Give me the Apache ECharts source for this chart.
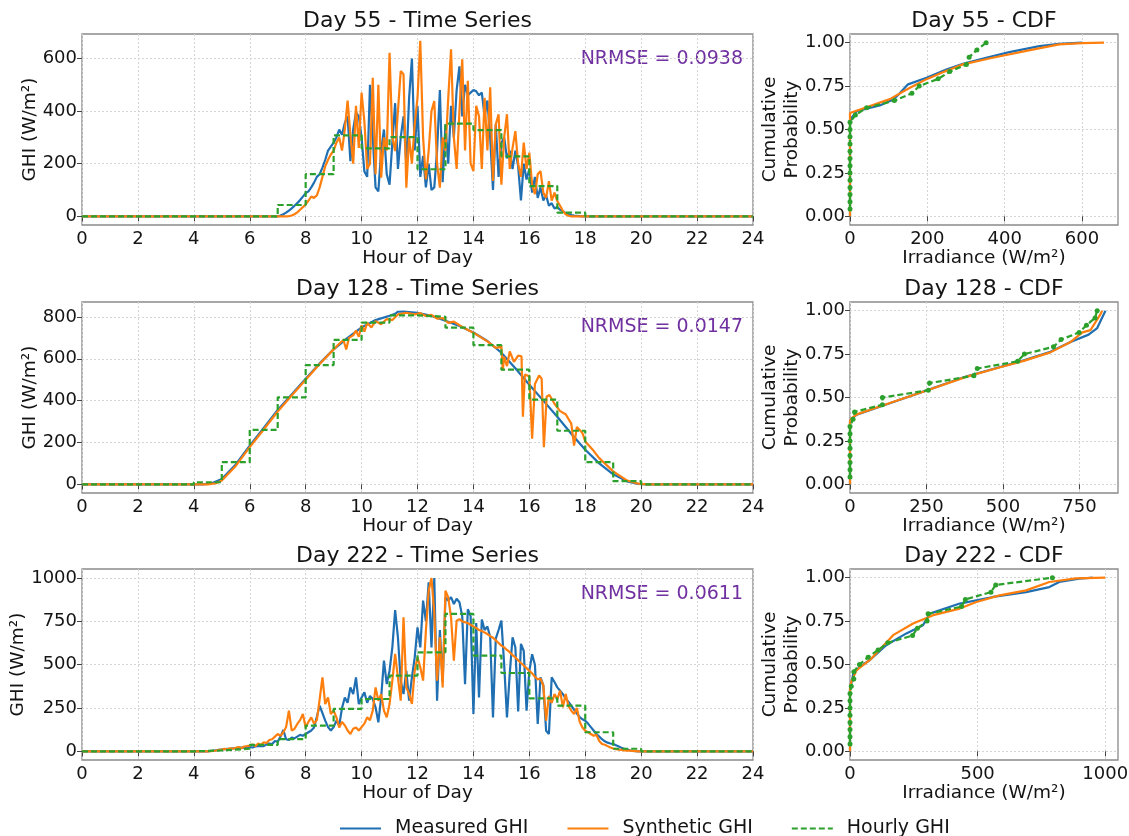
<!DOCTYPE html>
<html>
<head>
<meta charset="utf-8">
<title>GHI - time series and CDF</title>
<script src="https://cdn.jsdelivr.net/npm/echarts@6.0.0/dist/echarts.min.js"></script>
<style>
  body { margin: 0; background: #fff; }
  #chart { width: 1129px; height: 836px; }
</style>
</head>
<body>
<div id="chart"></div>
<script>
// sampling step of the read-off time series (hours)
const STEP = 0.1;

// ---- Day 55 ----
const measured55Start = 7.0;
const measured55 = [
  0, 3, 8, 14, 22, 30, 40, 50, 62, 75,
  88, 95, 110, 128, 150, 160, 185, 215, 250, 265,
  280, 300, 330, 310, 355, 380, 210, 330, 395, 380,
  300, 170, 150, 500, 300, 110, 95, 250, 330, 160,
  120, 280, 430, 180, 300, 380, 200, 450, 600, 250,
  420, 150, 230, 110, 200, 100, 110, 250, 480, 130,
  350, 200, 420, 300, 480, 570, 380, 500, 460, 470,
  480, 475, 460, 470, 380, 440, 300, 100, 350, 150,
  280, 300, 220, 250, 180, 250, 190, 60, 200, 140,
  180, 90, 150, 70, 110, 60, 80, 40, 50, 30,
  35, 25, 20, 12, 8, 5, 3, 2, 1, 0,
  0
];
const synthetic55Start = 7.0;
const synthetic55 = [
  0, 0, 0, 0, 1, 3, 8, 15, 25, 35,
  45, 60, 75, 70, 80, 110, 150, 190, 215, 235,
  250, 280, 300, 250, 330, 440, 310, 200, 420, 260,
  470, 360, 180, 200, 527, 160, 500, 147, 300, 250,
  622, 300, 248, 400, 552, 540, 109, 300, 200, 350,
  450, 667, 300, 140, 250, 400, 438, 200, 109, 300,
  250, 450, 635, 300, 180, 400, 597, 250, 515, 200,
  172, 420, 380, 180, 450, 250, 490, 134, 350, 388,
  120, 300, 388, 180, 260, 324, 200, 150, 280, 180,
  242, 120, 84, 160, 172, 90, 70, 134, 60, 90,
  58, 40, 20, 8, 2, 0, 0, 0, 0, 0,
  0
];
const hourly55 = [0, 0, 0, 0, 0, 0, 0, 43, 160, 308, 258, 301, 179, 352, 328, 228, 115, 14, 0, 0, 0, 0, 0, 0];
const cdfMeasured55 = [[0, 0], [0, 0.55], [4, 0.567], [17, 0.606], [77, 0.638], [112, 0.673], [125, 0.7], [150, 0.76], [198, 0.798], [249, 0.846], [292, 0.879], [352, 0.913], [412, 0.946], [490, 0.98], [541, 0.993], [601, 1.0]];
const cdfSynthetic55 = [[0, 0], [0, 0.595], [5, 0.603], [26, 0.615], [103, 0.675], [155, 0.74], [198, 0.79], [240, 0.83], [292, 0.875], [369, 0.913], [472, 0.96], [541, 0.99], [600, 0.997], [657, 1.0]];

// ---- Day 128 ----
const measured128 = [
  [0, 0], [4.3, 0], [4.6, 3], [5.0, 25], [5.5, 95], [6.0, 185], [6.5, 270], [7.0, 355], [7.5, 430],
  [8.0, 505], [8.5, 578], [9.0, 645], [9.5, 700], [10.0, 750], [10.5, 785], [11.0, 806], [11.2, 815],
  [11.3, 825], [11.35, 818], [11.5, 826], [12.0, 820], [12.5, 805], [13.0, 782], [13.5, 757], [14.0, 726],
  [14.5, 685], [15.0, 629], [15.5, 555], [16.0, 476], [16.5, 400], [17.0, 323], [17.5, 242], [18.0, 165],
  [18.5, 100], [19.0, 48], [19.5, 14], [19.9, 2], [20.2, 0], [24, 0]
];
const synthetic128 = [
  [0, 0], [4.5, 0], [4.8, 5], [5.0, 18], [5.5, 88], [6.0, 178], [6.5, 262], [7.0, 348], [7.5, 425],
  [8.0, 500], [8.5, 575], [9.0, 645], [9.2, 672], [9.35, 690], [9.45, 645], [9.55, 700], [9.7, 712],
  [9.8, 735], [9.9, 705], [10.0, 760], [10.1, 730], [10.2, 772], [10.35, 750], [10.5, 780], [10.7, 765],
  [10.9, 790], [11.1, 785], [11.3, 812], [11.6, 820], [11.9, 812], [12.1, 818], [12.3, 805], [12.5, 810],
  [12.7, 792], [12.9, 795], [13.1, 772], [13.3, 778], [13.6, 752], [14.0, 725], [14.5, 683], [14.8, 652],
  [15.0, 658], [15.05, 545], [15.1, 610], [15.2, 565], [15.3, 635], [15.45, 585], [15.6, 615], [15.72, 612],
  [15.77, 323], [15.84, 525], [16.0, 516], [16.1, 218], [16.2, 480], [16.35, 520], [16.44, 505], [16.52, 177],
  [16.62, 420], [16.72, 427], [16.9, 385], [17.1, 350], [17.3, 335], [17.5, 290], [17.6, 185], [17.7, 274],
  [17.9, 245], [18.0, 205], [18.3, 160], [18.5, 125], [19.0, 62], [19.5, 18], [19.9, 3], [20.2, 0], [24, 0]
];
const hourly128 = [0, 0, 0, 0, 10, 106, 260, 416, 570, 690, 773, 808, 801, 749, 665, 548, 405, 256, 106, 15, 0, 0, 0, 0];
const cdfMeasured128 = [[0, 0], [0, 0.36], [5, 0.377], [22, 0.401], [109, 0.454], [251, 0.541], [382, 0.622], [491, 0.676], [568, 0.714], [655, 0.763], [721, 0.82], [780, 0.862], [808, 0.9], [835, 1.0]];
const cdfSynthetic128 = [[0, 0], [0, 0.365], [5, 0.38], [22, 0.403], [109, 0.455], [251, 0.54], [382, 0.62], [491, 0.674], [568, 0.711], [655, 0.76], [721, 0.82], [760, 0.875], [786, 0.888], [819, 0.98], [824, 1.0]];

// ---- Day 222 ----
const measured222Start = 4.5;
const measured222 = [
  0, 2, 4, 6, 8,
  10, 12, 14, 15, 17, 18, 20, 22, 20, 22,
  25, 22, 28, 30, 32, 30, 40, 45, 42, 60,
  55, 85, 123, 70, 65, 80, 75, 85, 95, 90,
  100, 110, 120, 138, 200, 263, 220, 177, 140, 120,
  140, 177, 150, 250, 311, 280, 369, 330, 427, 273,
  311, 340, 280, 320, 302, 254, 167, 311, 523, 388,
  465, 600, 815, 657, 408, 330, 465, 292, 427, 542,
  715, 600, 870, 750, 975, 600, 1000, 292, 700, 400,
  888, 870, 890, 850, 880, 860, 780, 388, 820, 780,
  215, 740, 311, 760, 700, 720, 660, 196, 650, 700,
  754, 500, 196, 450, 658, 600, 230, 620, 580, 235,
  465, 560, 500, 158, 427, 380, 119, 100, 427, 400,
  369, 350, 330, 305, 285, 263, 240, 218, 198, 185,
  177, 160, 140, 120, 100, 85, 70, 58, 50, 45,
  42, 35, 28, 20, 14, 10, 6, 3, 1, 0,
  0
];
const synthetic222Start = 4.5;
const synthetic222 = [
  0, 1, 3, 5, 8,
  10, 14, 12, 18, 15, 20, 25, 18, 28, 30,
  33, 40, 30, 45, 38, 52, 48, 65, 70, 85,
  100, 90, 110, 140, 235, 119, 130, 158, 180, 215,
  138, 170, 196, 160, 180, 300, 427, 273, 311, 215,
  235, 196, 138, 170, 150, 120, 100, 130, 138, 120,
  140, 160, 196, 180, 235, 369, 292, 330, 235, 196,
  273, 408, 562, 427, 292, 773, 369, 331, 273, 465,
  542, 485, 408, 696, 927, 1000, 800, 408, 658, 369,
  927, 888, 773, 523, 754, 763, 750, 745, 740, 730,
  720, 712, 700, 695, 685, 677, 665, 655, 640, 625,
  610, 600, 585, 572, 555, 542, 525, 510, 495, 480,
  465, 450, 430, 415, 420, 380, 177, 320, 280, 330,
  300, 350, 254, 331, 260, 235, 215, 250, 170, 138,
  119, 110, 100, 90, 95, 60, 42, 38, 30, 22,
  16, 13, 10, 8, 6, 4, 4, 2, 1, 0,
  0
];
const hourly222 = [0, 0, 0, 0, 5, 15, 37, 71, 148, 245, 302, 437, 571, 793, 552, 452, 306, 264, 110, 15, 0, 0, 0, 0];
const cdfMeasured222 = [[0, 0], [0, 0.36], [3, 0.373], [13, 0.449], [39, 0.488], [78, 0.526], [143, 0.612], [221, 0.679], [286, 0.726], [313, 0.793], [430, 0.851], [560, 0.889], [690, 0.917], [781, 0.946], [820, 0.975], [898, 0.994], [951, 1.0]];
const cdfSynthetic222 = [[0, 0], [0, 0.36], [5, 0.4], [26, 0.468], [78, 0.526], [169, 0.669], [247, 0.736], [326, 0.784], [430, 0.822], [495, 0.86], [586, 0.898], [690, 0.927], [781, 0.975], [885, 0.996], [1000, 1.0]];

const nrmseValues = ['0.0938', '0.0147', '0.0611'];
const dayNumbers = [55, 128, 222];

const tsTicks = [[0, 200, 400, 600], [0, 200, 400, 600, 800], [0, 250, 500, 750, 1000]];
const cdfXTicks = [[0, 200, 400, 600], [0, 250, 500, 750], [0, 500, 1000]];
const cdfYTicks = [0, 0.25, 0.5, 0.75, 1.0];

// ---- helpers ----
function stepped(start, vals) {
  const pts = [[0, 0]];
  vals.forEach((v, i) => pts.push([Math.round((start + i * STEP) * 100) / 100, v]));
  pts.push([24, 0]);
  return pts;
}
function hourlySteps(vals) {
  const pts = vals.map((v, h) => [h, v]);
  pts.push([24, vals[vals.length - 1]]);
  return pts;
}
function hourlyCdf(vals) {
  const s = vals.slice().sort((a, b) => a - b);
  return s.map((v, i) => [v, (i + 1) / s.length]);
}

const rows = [
  { measured: stepped(measured55Start, measured55), synthetic: stepped(synthetic55Start, synthetic55),
    hourly: hourly55, cdfM: cdfMeasured55, cdfS: cdfSynthetic55, yMin: -33, yMax: 693, cdfMax: 693, yNameGap: 42 },
  { measured: measured128, synthetic: synthetic128,
    hourly: hourly128, cdfM: cdfMeasured128, cdfS: cdfSynthetic128, yMin: -41.5, yMax: 871.5, cdfMax: 876, yNameGap: 42 },
  { measured: stepped(measured222Start, measured222), synthetic: stepped(synthetic222Start, synthetic222),
    hourly: hourly222, cdfM: cdfMeasured222, cdfS: cdfSynthetic222, yMin: -50, yMax: 1052, cdfMax: 1050, yNameGap: 54 }
];

// ---- layout / style ----
const FONT = 'DejaVu Sans';
const TXT = '#141414';
const FRAME = '#8a8a8a';
const TICKC = '#444';
const GRIDC = '#d4d4d4';
const BLUE = '#1f6fb2', ORANGE = '#ff7f0e', GREEN = '#2ca02c';
const ROW_TOP = [34, 302, 569], ROW_H = 191;
const TS_LEFT = 82, TS_W = 671, CDF_LEFT = 850, CDF_W = 268;
const LW = 2.2;

const grids = [], xAxes = [], yAxes = [], series = [], graphics = [];
const plain = v => String(v);

function valueAxis(gi, extra) {
  return Object.assign({
    type: 'value', gridIndex: gi,
    axisLine: { show: false },
    axisTick: { show: true, length: 5, lineStyle: { color: TICKC, width: 1 } },
    axisLabel: { color: TXT, fontSize: 18, fontFamily: FONT },
    splitLine: { show: true, lineStyle: { color: GRIDC, type: [2, 2], width: 1 } },
    nameLocation: 'middle',
    nameMoveOverlap: false,
    nameTextStyle: { color: TXT, fontSize: 18.5, fontFamily: FONT }
  }, extra);
}

rows.forEach((row, r) => {
  const top = ROW_TOP[r];
  const gTs = 2 * r, gCdf = 2 * r + 1;
  grids.push({ left: TS_LEFT, top: top, width: TS_W, height: ROW_H, show: true,
    borderColor: FRAME, borderWidth: 1.3, backgroundColor: 'transparent', outerBoundsMode: 'none' });
  grids.push({ left: CDF_LEFT, top: top, width: CDF_W, height: ROW_H, show: true,
    borderColor: FRAME, borderWidth: 1.3, backgroundColor: 'transparent', outerBoundsMode: 'none' });

  xAxes.push(valueAxis(gTs, {
    min: 0, max: 24, interval: 2, name: 'Hour of Day', nameGap: 24,
    axisLabel: { color: TXT, fontSize: 18, fontFamily: FONT, margin: 5, formatter: plain }
  }));
  yAxes.push(valueAxis(gTs, {
    min: row.yMin, max: row.yMax, name: 'GHI (W/m²)', nameGap: row.yNameGap,
    axisLabel: { color: TXT, fontSize: 18, fontFamily: FONT, margin: 5, customValues: tsTicks[r], formatter: plain },
    axisTick: { show: true, length: 5, lineStyle: { color: TICKC }, customValues: tsTicks[r] }
  }));
  xAxes.push(valueAxis(gCdf, {
    min: 0, max: row.cdfMax, name: 'Irradiance (W/m²)', nameGap: 24,
    axisLabel: { color: TXT, fontSize: 18, fontFamily: FONT, margin: 5, customValues: cdfXTicks[r], formatter: plain },
    axisTick: { show: true, length: 5, lineStyle: { color: TICKC }, customValues: cdfXTicks[r] }
  }));
  yAxes.push(valueAxis(gCdf, {
    min: -0.05, max: 1.05, name: 'Cumulative\nProbability', nameGap: 47,
    nameTextStyle: { color: TXT, fontSize: 18.5, fontFamily: FONT, lineHeight: 22 },
    axisLabel: { color: TXT, fontSize: 18, fontFamily: FONT, margin: 5, customValues: cdfYTicks,
      formatter: v => v.toFixed(2) },
    axisTick: { show: true, length: 5, lineStyle: { color: TICKC }, customValues: cdfYTicks }
  }));

  const common = { type: 'line', symbol: 'none', animation: false };
  series.push(Object.assign({}, common, { name: 'Measured GHI', xAxisIndex: gTs, yAxisIndex: gTs,
    data: row.measured, lineStyle: { color: BLUE, width: LW }, itemStyle: { color: BLUE }, z: 2 }));
  series.push(Object.assign({}, common, { name: 'Synthetic GHI', xAxisIndex: gTs, yAxisIndex: gTs,
    data: row.synthetic, lineStyle: { color: ORANGE, width: LW }, itemStyle: { color: ORANGE }, z: 3 }));
  series.push(Object.assign({}, common, { name: 'Hourly GHI', xAxisIndex: gTs, yAxisIndex: gTs,
    data: hourlySteps(row.hourly), step: 'end',
    lineStyle: { color: GREEN, width: LW, type: [6, 3] }, itemStyle: { color: GREEN }, z: 4 }));

  series.push(Object.assign({}, common, { name: 'Measured GHI', xAxisIndex: gCdf, yAxisIndex: gCdf,
    data: row.cdfM, lineStyle: { color: BLUE, width: LW }, itemStyle: { color: BLUE }, z: 2 }));
  series.push(Object.assign({}, common, { name: 'Synthetic GHI', xAxisIndex: gCdf, yAxisIndex: gCdf,
    data: row.cdfS, lineStyle: { color: ORANGE, width: LW }, itemStyle: { color: ORANGE }, z: 3 }));
  series.push(Object.assign({}, common, { name: 'Hourly GHI', xAxisIndex: gCdf, yAxisIndex: gCdf,
    data: hourlyCdf(row.hourly), symbol: 'circle', symbolSize: 5, showSymbol: true,
    lineStyle: { color: GREEN, width: LW, type: [6, 3] }, itemStyle: { color: GREEN }, z: 4 }));

  graphics.push({ type: 'text', x: TS_LEFT + TS_W / 2, y: top - 13,
    style: { text: 'Day ' + dayNumbers[r] + ' - Time Series', fill: TXT, font: '22px "DejaVu Sans"',
      align: 'center', verticalAlign: 'middle' } });
  graphics.push({ type: 'text', x: CDF_LEFT + CDF_W / 2, y: top - 13,
    style: { text: 'Day ' + dayNumbers[r] + ' - CDF', fill: TXT, font: '22px "DejaVu Sans"',
      align: 'center', verticalAlign: 'middle' } });
  graphics.push({ type: 'text', x: TS_LEFT + TS_W - 10, y: top + 25,
    style: { text: 'NRMSE = ' + nrmseValues[r], fill: '#7030a0', font: '19px "DejaVu Sans"',
      align: 'right', verticalAlign: 'middle' } });
});

const chart = echarts.init(document.getElementById('chart'));
chart.setOption({
  animation: false,
  backgroundColor: '#fff',
  textStyle: { fontFamily: FONT },
  grid: grids,
  xAxis: xAxes,
  yAxis: yAxes,
  legend: {
    data: ['Measured GHI', 'Synthetic GHI', 'Hourly GHI'],
    left: 334, top: 814, itemWidth: 41, itemHeight: 14, itemGap: 38,
    itemStyle: { opacity: 0 },
    textStyle: { color: TXT, fontSize: 19, fontFamily: FONT, padding: [0, 0, 0, 9] }
  },
  series: series,
  graphic: graphics
});
</script>
</body>
</html>
